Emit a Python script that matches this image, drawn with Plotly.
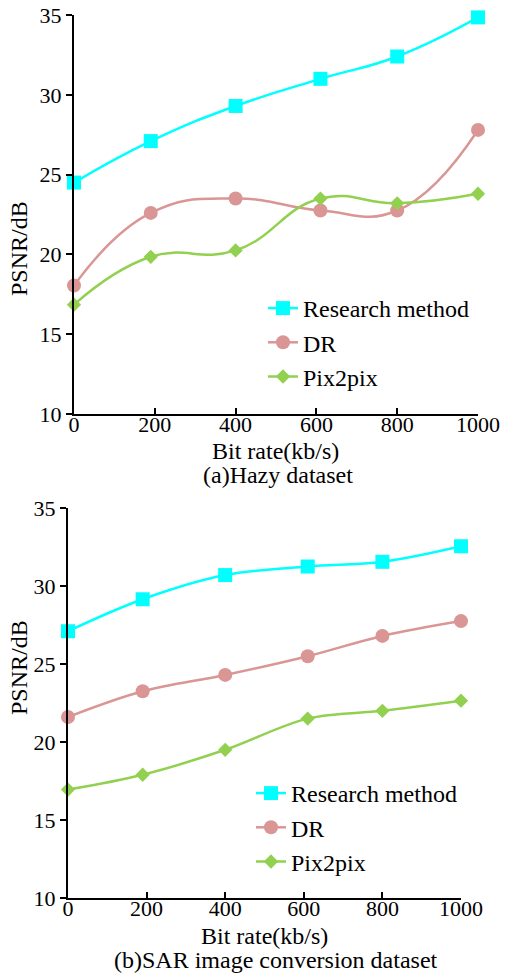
import plotly.graph_objects as go

# Bit rate sample points (kb/s)
bit_rate = [0, 190, 400, 610, 800, 1000]

# (a) Hazy dataset, PSNR in dB
hazy_research = [24.5, 27.1, 29.3, 31.0, 32.4, 34.85]
hazy_dr = [18.05, 22.6, 23.5, 22.75, 22.75, 27.8]
hazy_pix2pix = [16.85, 19.85, 20.25, 23.5, 23.2, 23.8]

# (b) SAR image conversion dataset, PSNR in dB
sar_research = [27.1, 29.15, 30.7, 31.25, 31.55, 32.55]
sar_dr = [21.6, 23.25, 24.3, 25.5, 26.8, 27.75]
sar_pix2pix = [16.95, 17.9, 19.5, 21.5, 22.0, 22.65]

series_names = ["Research method", "DR", "Pix2pix"]
y_ticks = [10, 15, 20, 25, 30, 35]
x_ticks = [0, 200, 400, 600, 800, 1000]

W, H = 508, 975
FONT = "Liberation Serif, Times New Roman, serif"
colors = ["#00FFFF", "#D99694", "#92D050"]
symbols = ["square", "circle", "diamond"]
msizes = [14, 14, 11]


def px_x(p):
    return p / W


def px_y(p):
    return 1 - p / H


fig = go.Figure()

panels = [
    ("x", "y", "legend", [hazy_research, hazy_dr, hazy_pix2pix], 1.3),
    ("x2", "y2", "legend2", [sar_research, sar_dr, sar_pix2pix], 1.0),
]

for xa, ya, leg, data, smooth in panels:
    for name, vals, c, s, ms in zip(series_names, data, colors, symbols, msizes):
        fig.add_trace(go.Scatter(
            x=bit_rate, y=vals, name=name, mode="lines+markers",
            xaxis=xa, yaxis=ya, legend=leg, cliponaxis=False,
            line=dict(color=c, width=2.5, shape="spline", smoothing=smooth),
            marker=dict(color=c, symbol=s, size=ms, line=dict(width=0)),
        ))

axis_common = dict(
    showline=True, linecolor="black", linewidth=2, showgrid=False,
    zeroline=False, tickcolor="black", tickwidth=2, ticklen=6,
    tickfont=dict(family=FONT, size=22, color="black"),
)
x_common = dict(range=[0, 1000], tickvals=x_ticks, ticks="inside",
                ticklabelstandoff=-10, **axis_common)
y_common = dict(range=[10, 35], tickvals=y_ticks, ticks="outside", **axis_common)

legend_common = dict(xanchor="left", yanchor="top", bgcolor="rgba(0,0,0,0)",
                     font=dict(family=FONT, size=24, color="black"),
                     tracegroupgap=0)

fig.update_layout(
    width=W, height=H,
    margin=dict(l=0, r=0, t=0, b=0, autoexpand=False),
    paper_bgcolor="white", plot_bgcolor="white",
    font=dict(family=FONT, size=24, color="black"),
    xaxis=dict(domain=[px_x(74), px_x(478)], anchor="y", **x_common),
    yaxis=dict(domain=[px_y(414), px_y(15)], anchor="x", **y_common),
    xaxis2=dict(domain=[px_x(68), px_x(461)], anchor="y2", **x_common),
    yaxis2=dict(domain=[px_y(898), px_y(508)], anchor="x2", **y_common),
    legend=dict(x=px_x(263), y=px_y(286), **legend_common),
    legend2=dict(x=px_x(251), y=px_y(771), **legend_common),
    showlegend=True,
)

annos = [
    ("Bit rate(kb/s)", 275, 451, 0),
    ("(a)Hazy dataset", 278, 475, 0),
    ("PSNR/dB", 19, 249, -90),
    ("Bit rate(kb/s)", 264, 936, 0),
    ("(b)SAR image conversion dataset", 276, 960, 0),
    ("PSNR/dB", 19, 668, -90),
]
for text, ax_, ay_, ang in annos:
    fig.add_annotation(text=text, x=px_x(ax_), y=px_y(ay_), xref="paper", yref="paper",
                       xanchor="center", yanchor="middle", showarrow=False,
                       textangle=ang, font=dict(family=FONT, size=24, color="black"))

fig.write_html("out.html")
